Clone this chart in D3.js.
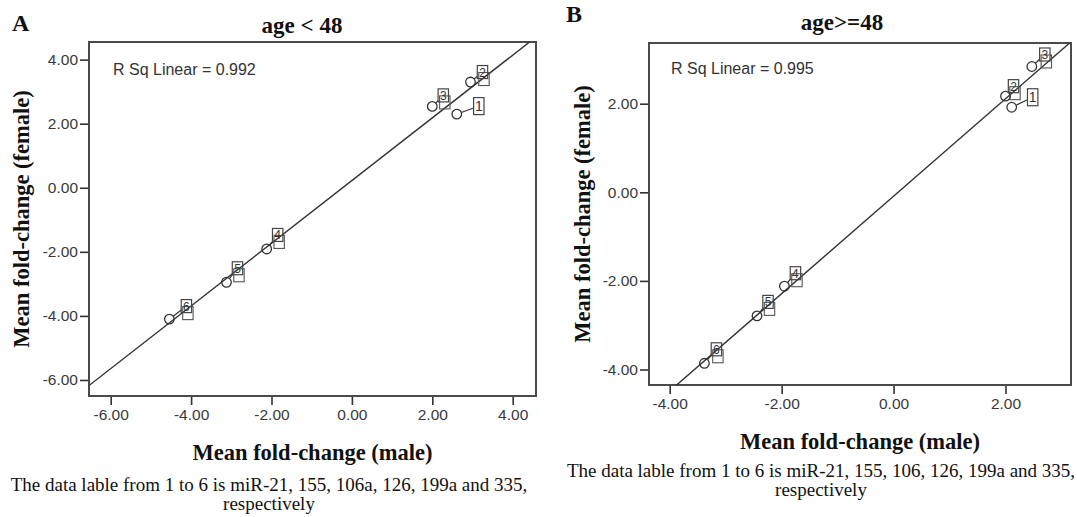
<!DOCTYPE html>
<html>
<head>
<meta charset="utf-8">
<script src="https://cdn.jsdelivr.net/npm/d3@7"></script>
<style>
  html, body { margin: 0; padding: 0; background: #fff; }
  svg { display: block; }
</style>
</head>
<body>
<svg id="fig" width="1077" height="517"></svg>
<script>
// Point labels 1..6 (miR-21, 155, 106a, 126, 199a, 335)
const pointLabels = ["1", "2", "3", "4", "5", "6"];

// Panel A: age < 48 — mean fold-change per miRNA
const maleYoung   = [2.61, 2.95, 2.00, -2.12, -3.12, -4.54];
const femaleYoung = [2.30, 3.30, 2.54, -1.91, -2.95, -4.10];

// Panel B: age >= 48
const maleOld   = [2.11, 2.00, 2.47, -1.95, -2.44, -3.38];
const femaleOld = [1.92, 2.17, 2.84, -2.12, -2.79, -3.86];

// Axis ticks
const ticksYoung = [-6, -4, -2, 0, 2, 4];
const ticksOld   = [-4, -2, 0, 2];

// Text
const panelLetters = ["A", "B"];
const panelTitles  = ["age < 48", "age>=48"];
const rSquared     = ["0.992", "0.995"];
const xTitle = "Mean fold-change (male)";
const yTitle = "Mean fold-change (female)";
const captionsLine1 = [
  "The data lable from 1 to 6 is miR-21, 155, 106a, 126, 199a and 335,",
  "The data lable from 1 to 6 is miR-21, 155, 106, 126, 199a and 335,"
];
const captionLine2 = "respectively";

// ---- layout ----
const SERIF = "'Liberation Serif', 'Times New Roman', serif";
const SANS  = "'Liberation Sans', Arial, sans-serif";
const INK   = "#333";

const panels = [
  {
    male: maleYoung, female: femaleYoung, ticks: ticksYoung,
    xDomain: [-6.54, 4.58], yDomain: [-6.5, 4.55],
    left: 89, right: 536, top: 42, bottom: 396,
    letter: [12, 31], title: [302, 33], rsq: [113, 75],
    yTitleX: 29, xTitleY: 460, cap1Y: 491, cap2Y: 510, capX: 269,
    // label-box offsets from each point (px)
    offsets: [[22, -8], [12, -10], [11, -11], [11, -14], [11, -14], [17, -13]],
    doubled: [false, true, true, true, true, true]
  },
  {
    male: maleOld, female: femaleOld, ticks: ticksOld,
    xDomain: [-4.37, 3.17], yDomain: [-4.35, 3.37],
    left: 649, right: 1071, top: 43, bottom: 385,
    letter: [566, 22], title: [842, 30], rsq: [671, 74],
    yTitleX: 590, xTitleY: 449, cap1Y: 477, cap2Y: 496, capX: 821,
    offsets: [[21, -10], [8, -10], [13, -12], [11, -13], [11, -14], [12, -14]],
    doubled: [false, true, true, true, true, true]
  }
];

const svg = d3.select("#fig");

// ordinary least squares fit
function linearFit(xs, ys) {
  const mx = d3.mean(xs), my = d3.mean(ys);
  let sxy = 0, sxx = 0;
  xs.forEach((x, i) => { sxy += (x - mx) * (ys[i] - my); sxx += (x - mx) ** 2; });
  const slope = sxy / sxx;
  return { slope, intercept: my - slope * mx };
}

// point where the segment from a box centre towards (px,py) leaves the box
function boxExit(bx, by, hw, hh, px, py) {
  const dx = px - bx, dy = py - by;
  const t = Math.min(dx ? hw / Math.abs(dx) : Infinity, dy ? hh / Math.abs(dy) : Infinity);
  return [bx + dx * t, by + dy * t];
}

panels.forEach((p, k) => {
  const x = d3.scaleLinear().domain(p.xDomain).range([p.left, p.right]);
  const y = d3.scaleLinear().domain(p.yDomain).range([p.bottom, p.top]);
  const g = svg.append("g");

  // panel letter and title
  g.append("text").attr("x", p.letter[0]).attr("y", p.letter[1])
    .attr("font-family", SERIF).attr("font-weight", "bold").attr("font-size", 24)
    .attr("fill", "#111").text(panelLetters[k]);
  g.append("text").attr("x", p.title[0]).attr("y", p.title[1])
    .attr("text-anchor", "middle")
    .attr("font-family", SERIF).attr("font-weight", "bold").attr("font-size", 23)
    .attr("fill", "#111").text(panelTitles[k]);

  // axes
  const xAxis = g.append("g").attr("transform", `translate(0,${p.bottom})`)
    .call(d3.axisBottom(x).tickValues(p.ticks).tickSize(9).tickSizeOuter(0).tickPadding(4));
  const yAxis = g.append("g").attr("transform", `translate(${p.left},0)`)
    .call(d3.axisLeft(y).tickValues(p.ticks).tickSize(9).tickSizeOuter(0).tickPadding(2));
  [xAxis, yAxis].forEach(a => {
    a.select(".domain").remove();
    a.selectAll(".tick line").attr("stroke", INK).attr("stroke-width", 1.6);
    a.selectAll(".tick text").attr("font-family", SANS).attr("font-size", 15.5).attr("fill", "#3a3a3a")
      .text(d => d.toFixed(2));
  });

  // frame
  const clipId = "clip" + k;
  g.append("clipPath").attr("id", clipId).append("rect")
    .attr("x", p.left).attr("y", p.top).attr("width", p.right - p.left).attr("height", p.bottom - p.top);
  g.append("rect").attr("x", p.left).attr("y", p.top)
    .attr("width", p.right - p.left).attr("height", p.bottom - p.top)
    .attr("fill", "none").attr("stroke", "#4a4a4a").attr("stroke-width", 2);

  // R squared annotation
  g.append("text").attr("x", p.rsq[0]).attr("y", p.rsq[1])
    .attr("font-family", SANS).attr("font-size", 16).attr("fill", "#333")
    .text("R Sq Linear = " + rSquared[k]);

  // fit line
  const fit = linearFit(p.male, p.female);
  const xs = p.xDomain;
  g.append("line").attr("clip-path", `url(#${clipId})`)
    .attr("x1", x(xs[0])).attr("y1", y(fit.intercept + fit.slope * xs[0]))
    .attr("x2", x(xs[1])).attr("y2", y(fit.intercept + fit.slope * xs[1]))
    .attr("stroke", INK).attr("stroke-width", 1.4);

  // points with connected label boxes
  const pts = p.male.map((m, i) => ({ m, f: p.female[i], label: pointLabels[i], off: p.offsets[i], dbl: p.doubled[i] }));
  const R = 4.8, HW = 5.2;
  const node = g.append("g").selectAll("g").data(pts).join("g");
  node.each(function (d) {
    const sel = d3.select(this);
    const HH = d.dbl ? 6.5 : 8.5;
    const cx = x(d.m), cy = y(d.f);
    const bx = cx + d.off[0], by = cy + d.off[1];
    const [ex, ey] = boxExit(bx, by, HW, HH, cx, cy);
    const len = Math.hypot(ex - cx, ey - cy);
    if (len > R) {
      sel.append("line")
        .attr("x1", cx + (ex - cx) * R / len).attr("y1", cy + (ey - cy) * R / len)
        .attr("x2", ex).attr("y2", ey)
        .attr("stroke", INK).attr("stroke-width", 1.2);
    }
    if (d.dbl) {
      sel.append("rect").attr("x", bx - HW + 1.5).attr("y", by - HH + 7)
        .attr("width", HW * 2).attr("height", HH * 2)
        .attr("fill", "none").attr("stroke", "#555").attr("stroke-width", 1.1);
    }
    sel.append("rect").attr("x", bx - HW).attr("y", by - HH)
      .attr("width", HW * 2).attr("height", HH * 2)
      .attr("fill", "none").attr("stroke", "#444").attr("stroke-width", 1.2);
    sel.append("text").attr("x", bx).attr("y", by + 4.5)
      .attr("text-anchor", "middle").attr("font-family", SANS).attr("font-size", d.dbl ? 12 : 14)
      .attr("fill", "#333").text(d.label);
    sel.append("circle").attr("cx", cx).attr("cy", cy).attr("r", R)
      .attr("fill", "none").attr("stroke", INK).attr("stroke-width", 1.3);
  });

  // axis titles
  g.append("text").attr("x", (p.left + p.right) / 2).attr("y", p.xTitleY)
    .attr("text-anchor", "middle")
    .attr("font-family", SERIF).attr("font-weight", "bold").attr("font-size", 22.5)
    .attr("fill", "#111").text(xTitle);
  g.append("text")
    .attr("transform", `translate(${p.yTitleX},${(p.top + p.bottom) / 2}) rotate(-90)`)
    .attr("text-anchor", "middle")
    .attr("font-family", SERIF).attr("font-weight", "bold").attr("font-size", 22.5)
    .attr("fill", "#111").text(yTitle);

  // caption
  g.append("text").attr("x", p.capX).attr("y", p.cap1Y).attr("text-anchor", "middle")
    .attr("font-family", SERIF).attr("font-size", 19).attr("fill", "#111").text(captionsLine1[k]);
  g.append("text").attr("x", p.capX).attr("y", p.cap2Y).attr("text-anchor", "middle")
    .attr("font-family", SERIF).attr("font-size", 19).attr("fill", "#111").text(captionLine2);
});
</script>
</body>
</html>
